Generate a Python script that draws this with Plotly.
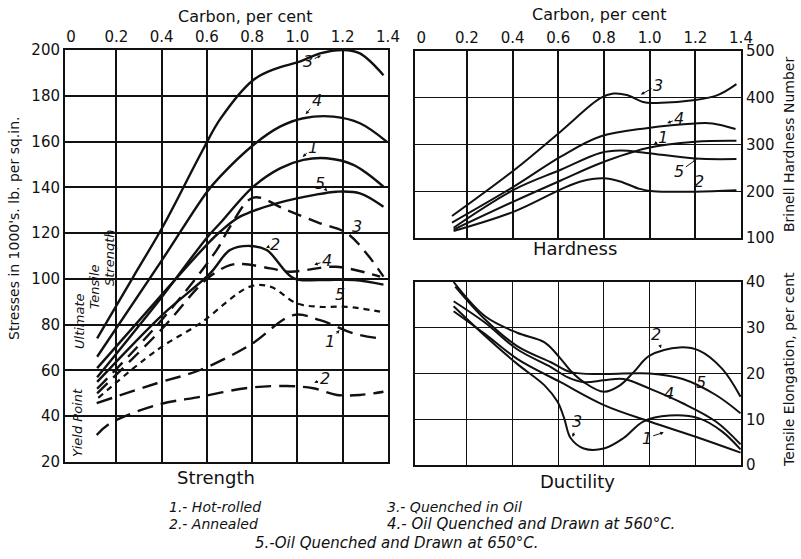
import plotly.graph_objects as go

W, H = 801, 559

# ---------------- Strength panel data (carbon %, 1000 lb/sq.in.) ----------------
uts3_c = [0.115, 0.274, 0.406, 0.58, 0.66, 0.805, 0.908, 1.01, 1.1, 1.203, 1.276, 1.38]
uts3_v = [74, 100.8, 123, 156, 170, 186.9, 192, 194.9, 198.5, 200, 198.5, 189]
uts4_c = [0.115, 0.4, 0.6, 0.658, 0.805, 0.923, 1.026, 1.159, 1.276, 1.394]
uts4_v = [66, 108, 138, 144.7, 158.5, 166.5, 170.2, 170.9, 168, 160]
uts1_c = [0.115, 0.4, 0.6, 0.658, 0.805, 0.923, 1.026, 1.129, 1.247, 1.38]
uts1_v = [57, 92, 118, 124.3, 140.3, 148.3, 152, 152.7, 149.8, 140.3]
uts5_c = [0.115, 0.4, 0.6, 0.658, 0.746, 0.908, 1.07, 1.174, 1.276, 1.38]
uts5_v = [61, 93, 115, 120.6, 127.2, 133, 136.6, 138.1, 137.4, 131.5]
uts2_c = [0.115, 0.4, 0.614, 0.702, 0.79, 0.864, 0.982, 1.1, 1.25, 1.38]
uts2_v = [55, 84, 102.4, 112.6, 114.4, 112.6, 100.3, 99.5, 99.5, 97.5]

yp3_c = [0.115, 0.4, 0.643, 0.702, 0.805, 0.953, 1.1, 1.218, 1.306, 1.38]
yp3_v = [52, 82, 112.6, 122.8, 135.5, 130, 124.3, 120, 111, 101]
yp4_c = [0.115, 0.4, 0.6, 0.702, 0.76, 0.88, 0.967, 1.04, 1.17, 1.365]
yp4_v = [50, 78, 100, 106, 106.5, 104.6, 103.1, 103.9, 105.3, 101]
yp5_c = [0.12, 0.379, 0.57, 0.79, 0.88, 0.997, 1.1, 1.218, 1.365]
yp5_v = [48, 68.9, 80.6, 96.6, 96.6, 89.3, 87.8, 87.8, 85.7]
yp1_c = [0.113, 0.379, 0.57, 0.79, 0.982, 1.1, 1.247, 1.365]
yp1_v = [45.7, 54.4, 60.2, 71.1, 84.2, 82, 76.2, 74]
yp2_c = [0.113, 0.172, 0.379, 0.57, 0.79, 0.953, 1.07, 1.174, 1.276, 1.38]
yp2_v = [31.8, 36.9, 44.9, 48.5, 52.5, 53.2, 52.2, 49.3, 49.3, 50.7]

# ---------------- Hardness panel data (Brinell) ----------------
bh3_c = [0.135, 0.409, 0.611, 0.784, 0.842, 0.9, 0.972, 1.015, 1.2, 1.3, 1.38]
bh3_v = [147, 246, 328, 399, 409, 406, 391, 389, 395, 406, 429]
bh4_c = [0.135, 0.409, 0.611, 0.784, 0.986, 1.2, 1.275, 1.376]
bh4_v = [133, 211, 274, 317, 335, 345, 345, 333]
bh5_c = [0.142, 0.409, 0.611, 0.784, 0.871, 0.986, 1.2, 1.38]
bh5_v = [122, 204, 246, 282, 287, 282, 270, 269]
bh1_c = [0.142, 0.409, 0.611, 0.784, 0.986, 1.2, 1.38]
bh1_v = [118, 179, 223, 260, 292, 306, 308]
bh2_c = [0.142, 0.409, 0.611, 0.698, 0.799, 0.871, 0.957, 1.015, 1.2, 1.38]
bh2_v = [115, 157, 204, 221, 228, 221, 205, 200, 199, 202]

# ---------------- Ductility panel data (elongation %) ----------------
el2_c = [0.142, 0.28, 0.42, 0.54, 0.611, 0.654, 0.712, 0.8, 0.87, 0.93, 1.0, 1.13, 1.217, 1.318, 1.398]
el2_v = [40, 32.5, 28.9, 26.8, 23.2, 20.6, 18.1, 16, 17.4, 20.3, 23.9, 25.7, 25, 21, 14.9]
el5_c = [0.149, 0.28, 0.42, 0.57, 0.654, 0.8, 1.0, 1.145, 1.29, 1.398]
el5_v = [39, 31.8, 26, 22.4, 20.3, 19.9, 20, 18.8, 15.3, 11.3]
el4_c = [0.142, 0.28, 0.42, 0.568, 0.64, 0.712, 0.8, 0.886, 1.0, 1.145, 1.29, 1.398]
el4_v = [35.8, 31.1, 25.3, 21.4, 19.2, 18.1, 18.5, 18.8, 16.7, 13.5, 9.5, 4.5]
el1_c = [0.142, 0.28, 0.42, 0.61, 0.8, 1.0, 1.217, 1.398]
el1_v = [33.6, 28.6, 23.2, 18.1, 13.1, 9.5, 5.9, 2.7]
el3_c = [0.142, 0.28, 0.42, 0.54, 0.597, 0.626, 0.654, 0.712, 0.8, 0.886, 0.972, 1.087, 1.217, 1.318, 1.398]
el3_v = [34.7, 28.2, 22.1, 17.4, 13.8, 10.2, 5.9, 3.6, 3.6, 5.9, 9.5, 10.8, 10.2, 7.3, 3.4]

carbon_ticks = [0, 0.2, 0.4, 0.6, 0.8, 1.0, 1.2, 1.4]
carbon_text = ["0", "0.2", "0.4", "0.6", "0.8", "1.0", "1.2", "1.4"]
grid_carbon = [0.2, 0.4, 0.6, 0.8, 1.0, 1.2]
stress_ticks = [20, 40, 60, 80, 100, 120, 140, 160, 180, 200]
brinell_ticks = [100, 200, 300, 400, 500]
elong_ticks = [0, 10, 20, 30, 40]

FONT = "DejaVu Sans"
BLACK = "#111111"

fig = go.Figure()

def add(c, v, xa, ya, dash="solid", width=2.4):
    fig.add_trace(go.Scatter(x=c, y=v, xaxis=xa, yaxis=ya, mode="lines",
                             line=dict(color=BLACK, width=width, dash=dash, shape="spline", smoothing=1.0),
                             hoverinfo="skip", showlegend=False))

for c, v in [(uts3_c, uts3_v), (uts4_c, uts4_v), (uts1_c, uts1_v), (uts5_c, uts5_v), (uts2_c, uts2_v)]:
    add(c, v, "x", "y")
add(yp3_c, yp3_v, "x", "y", dash="14px,8px")
add(yp4_c, yp4_v, "x", "y", dash="14px,8px")
add(yp5_c, yp5_v, "x", "y", dash="6px,5px", width=2.2)
add(yp1_c, yp1_v, "x", "y", dash="16px,8px")
add(yp2_c, yp2_v, "x", "y", dash="16px,8px")

for c, v in [(bh3_c, bh3_v), (bh4_c, bh4_v), (bh5_c, bh5_v), (bh1_c, bh1_v), (bh2_c, bh2_v)]:
    add(c, v, "x2", "y2", width=2.0)

for c, v in [(el2_c, el2_v), (el5_c, el5_v), (el4_c, el4_v), (el1_c, el1_v), (el3_c, el3_v)]:
    add(c, v, "x3", "y3", width=2.0)

def px_x(p):
    return p / W

def px_y(p):
    return 1 - p / H

tickfont = dict(family=FONT, size=15, color=BLACK)
common_x = dict(range=[-0.027, 1.4], tickvals=carbon_ticks, ticktext=carbon_text, showgrid=False,
                zeroline=False, showline=True, linecolor=BLACK, linewidth=2, mirror=True,
                ticks="", tickfont=tickfont, automargin=False,
                minor=dict(tickvals=grid_carbon, showgrid=True, gridcolor=BLACK, gridwidth=1.6, ticks=""))

fig.update_layout(
    width=W, height=H, margin=dict(l=0, r=0, t=0, b=0, autoexpand=False),
    paper_bgcolor="white", plot_bgcolor="white", showlegend=False,
    xaxis=dict(domain=[px_x(65), px_x(388)], side="top", anchor="y", **common_x),
    yaxis=dict(domain=[px_y(462), px_y(50)], range=[20, 200], tickvals=stress_ticks,
               showgrid=True, gridcolor=BLACK, gridwidth=1.6, zeroline=False, showline=True,
               linecolor=BLACK, linewidth=2, mirror=True, ticks="", tickfont=tickfont, anchor="x",
               automargin=False),
    xaxis2=dict(domain=[px_x(415), px_x(741)], side="top", anchor="y2", **common_x),
    yaxis2=dict(domain=[px_y(238), px_y(51)], range=[100, 500], tickvals=brinell_ticks, side="right",
                showgrid=True, gridcolor=BLACK, gridwidth=1.4, zeroline=False, showline=True,
                linecolor=BLACK, linewidth=2, mirror=True, ticks="", tickfont=tickfont, anchor="x2",
                automargin=False),
    xaxis3=dict(domain=[px_x(415), px_x(741)], anchor="y3", range=[-0.027, 1.4], showticklabels=False,
                showgrid=False, zeroline=False, showline=True, linecolor=BLACK, linewidth=2, mirror=True,
                ticks="", automargin=False,
                minor=dict(tickvals=grid_carbon, showgrid=True, gridcolor=BLACK, gridwidth=1.4, ticks="")),
    yaxis3=dict(domain=[px_y(465), px_y(282)], range=[0, 40], tickvals=elong_ticks, side="right",
                showgrid=True, gridcolor=BLACK, gridwidth=1.4, zeroline=False, showline=True,
                linecolor=BLACK, linewidth=2, mirror=True, ticks="", tickfont=tickfont, anchor="x3",
                automargin=False),
)

ann = []

def paper_text(text, x, y, size=14, angle=0, italic=False, xanchor="center"):
    ann.append(dict(text=text, x=px_x(x), y=px_y(y), xref="paper", yref="paper", showarrow=False,
                    textangle=angle, xanchor=xanchor, yanchor="middle",
                    font=dict(family=FONT, size=size, color=BLACK, style="italic" if italic else "normal")))

paper_text("Carbon, per cent", 245, 17, size=16)
paper_text("Carbon, per cent", 599, 14, size=16)
paper_text("Strength", 216, 477, size=18)
paper_text("Hardness", 575, 249, size=18)
paper_text("Ductility", 577, 481, size=18)
paper_text("Stresses in 1000's. lb. per sq.in.", 14, 228, size=14, angle=-90)
paper_text("Brinell Hardness Number", 789, 145, size=14, angle=-90)
paper_text("Tensile Elongation, per cent", 789, 370, size=14, angle=-90)
paper_text("Ultimate", 79, 321, size=13, angle=-90, italic=True)
paper_text("Tensile", 94, 287, size=13, angle=-90, italic=True)
paper_text("Strength", 109, 258, size=13, angle=-90, italic=True)
paper_text("Yield Point", 77, 423, size=13, angle=-90, italic=True)

paper_text("1.- Hot-rolled", 167, 507, size=14, italic=True, xanchor="left")
paper_text("2.- Annealed", 167, 524, size=14, italic=True, xanchor="left")
paper_text("3.- Quenched in Oil", 385, 507, size=14, italic=True, xanchor="left")
paper_text("4.- Oil Quenched and Drawn at 560°C.", 385, 524, size=15, italic=True, xanchor="left")
paper_text("5.-Oil Quenched and Drawn at 650°C.", 253, 543, size=15, italic=True, xanchor="left")

def curve_label(text, tx, ty, hx, hy, xa, ya):
    ann.append(dict(text=text, x=hx, y=hy, ax=tx, ay=ty, xref=xa, yref=ya, axref=xa, ayref=ya,
                    showarrow=True, arrowhead=2, arrowsize=0.7, arrowwidth=1, arrowcolor=BLACK, standoff=1,
                    font=dict(family=FONT, size=16, color=BLACK, style="italic")))

# strength labels
curve_label("3", 1.047, 194.8, 1.108, 197.8, "x", "y")
curve_label("4", 1.085, 178, 1.034, 171.6, "x", "y")
curve_label("1", 1.07, 157.6, 1.02, 153, "x", "y")
curve_label("5", 1.1, 141.5, 1.135, 138, "x", "y")
curve_label("3", 1.263, 123, 1.245, 117.8, "x", "y")
curve_label("2", 0.9, 115, 0.857, 113.5, "x", "y")
curve_label("4", 1.13, 108, 1.07, 106, "x", "y")
curve_label("5", 1.188, 93, 1.21, 89.5, "x", "y")
curve_label("1", 1.144, 72.5, 1.188, 78, "x", "y")
curve_label("2", 1.12, 56.5, 1.07, 54.4, "x", "y")
# hardness labels
curve_label("3", 1.037, 427, 0.958, 406, "x2", "y2")
curve_label("4", 1.13, 356, 1.073, 345, "x2", "y2")
curve_label("1", 1.059, 314, 1.015, 299, "x2", "y2")
curve_label("5", 1.13, 242, 1.21, 270, "x2", "y2")
curve_label("2", 1.217, 221, 1.246, 206, "x2", "y2")
# ductility labels
curve_label("2", 1.03, 28.6, 1.051, 25.3, "x3", "y3")
curve_label("5", 1.224, 18.1, 1.239, 16.3, "x3", "y3")
curve_label("4", 1.087, 15.6, 1.109, 13.8, "x3", "y3")
curve_label("3", 0.683, 9.5, 0.662, 5.9, "x3", "y3")
curve_label("1", 0.987, 5.9, 1.066, 7.2, "x3", "y3")

fig.update_layout(annotations=ann)
fig.write_html("out.html", config={"displayModeBar": False},
               post_script="document.body.style.margin='0';document.body.style.overflow='hidden';")
